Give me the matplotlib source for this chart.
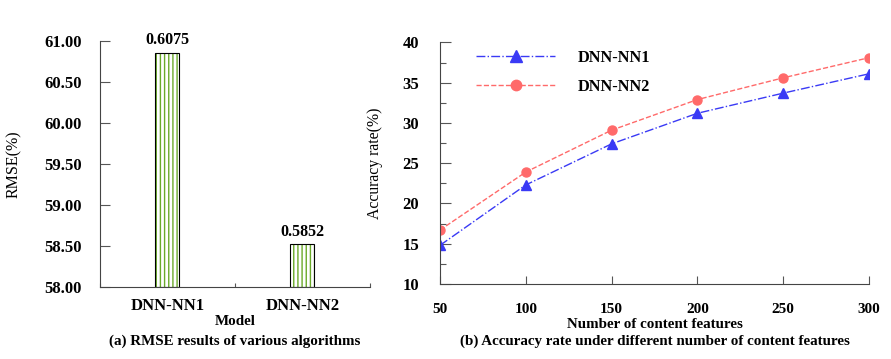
import matplotlib
matplotlib.use("Agg")
import matplotlib.pyplot as plt
from matplotlib.ticker import MultipleLocator, FixedLocator

plt.rcParams['font.family'] = ['Liberation Serif', 'DejaVu Serif']
plt.rcParams['hatch.linewidth'] = 1.0

# ---- data ----
models = ["DNN-NN1", "DNN-NN2"]
rmse_values = [60.86, 58.52]
rmse_labels = ["0.6075", "0.5852"]

features = [50, 100, 150, 200, 250, 300]
acc_nn1 = [14.8, 22.3, 27.4, 31.2, 33.7, 36.1]
acc_nn2 = [16.7, 23.9, 29.1, 32.9, 35.6, 38.1]

fs_tick = 12
fs_title = 10.8
fs_lab = 11.5
fig = plt.figure(figsize=(8.91, 3.59), dpi=100)

# ---- left: bar chart ----
ax1 = fig.add_axes([0.1122, 0.2006, 0.303, 0.685])
xpos = [0.5, 1.5]
bw = 0.178
green = "#6aaa2a"
ax1.bar(xpos, [v - 58 for v in rmse_values], bottom=58, width=bw, color="white",
        edgecolor=green, hatch="||||", linewidth=0)
ax1.bar(xpos, [v - 58 for v in rmse_values], bottom=58, width=bw, fill=False,
        edgecolor="black", linewidth=0.8)
for x, v, lab in zip(xpos, rmse_values, rmse_labels):
    ax1.text(x, v + 0.05, lab, ha="center", va="bottom", fontsize=fs_lab, fontweight="bold")
ax1.set_xlim(0, 2)
ax1.set_ylim(58, 61)
ax1.set_yticks([58 + 0.5 * i for i in range(7)])
ax1.set_yticklabels([f"{58 + 0.5 * i:.2f}" for i in range(7)], fontsize=fs_tick, fontweight="bold")
ax1.xaxis.set_major_locator(FixedLocator([0, 1, 2]))
ax1.set_xticklabels([])
ax1.set_xticks(xpos, minor=True)
ax1.set_xticklabels(models, minor=True, fontsize=fs_tick, fontweight="bold")
ax1.tick_params(axis="x", which="minor", length=0, pad=8)
ax1.tick_params(axis="x", which="major", direction="in", length=3, width=0.8, color="#555555")
ax1.tick_params(axis="y", direction="in", length=7, width=0.8, color="#555555", pad=13)
for s in ["top", "right"]:
    ax1.spines[s].set_visible(False)
for s in ["left", "bottom"]:
    ax1.spines[s].set_color("#444444")
ax1.set_ylabel("RMSE(%)", fontsize=fs_lab, labelpad=16)
ax1.set_xlabel("Model", fontsize=fs_title, fontweight="bold", labelpad=1)
fig.text(0.263, 0.05, "(a) RMSE results of various algorithms", ha="center", va="center",
         fontsize=fs_title, fontweight="bold")

# ---- right: line chart ----
ax2 = fig.add_axes([0.4938, 0.2089, 0.4815, 0.673])
blue = "#3a3af5"
red = "#ff6a6a"
ax2.plot(features, acc_nn1, color=blue, linestyle="-.", linewidth=1.0, marker="^",
         markersize=7, label="DNN-NN1")
ax2.plot(features, acc_nn2, color=red, linestyle="--", linewidth=1.0, marker="o",
         markersize=6.5, label="DNN-NN2")
ax2.set_xlim(50, 300)
ax2.set_ylim(10, 40)
ax2.set_xticks(features)
ax2.set_xticklabels([str(f) for f in features], fontsize=11, fontweight="bold")
ax2.yaxis.set_minor_locator(MultipleLocator(2.5))
ax2.set_yticks([10, 15, 20, 25, 30, 35, 40])
ax2.set_yticklabels(["10", "15", "20", "25", "30", "35", "40"], fontsize=fs_tick, fontweight="bold")
ax2.tick_params(axis="x", direction="in", length=6, width=0.8, color="#555555", pad=14)
ax2.tick_params(axis="y", which="major", direction="in", length=8, width=0.8, color="#555555", pad=15)
ax2.tick_params(axis="y", which="minor", direction="in", length=4, width=0.8, color="#555555")
for s in ["top", "right"]:
    ax2.spines[s].set_visible(False)
for s in ["left", "bottom"]:
    ax2.spines[s].set_color("#444444")
ax2.set_ylabel("Accuracy rate(%)", fontsize=11.3, labelpad=14)
ax2.set_xlabel("Number of content features", fontsize=fs_title, fontweight="bold", labelpad=1)
leg = ax2.legend(loc="upper left", bbox_to_anchor=(0.05, 1.03), frameon=False,
                 handlelength=4.8, handletextpad=1.4, labelspacing=0.8, markerscale=1.15,
                 prop={"size": 11.8, "weight": "bold", "family": "Liberation Serif"})
fig.text(0.735, 0.05, "(b) Accuracy rate under different number of content features",
         ha="center", va="center", fontsize=fs_title, fontweight="bold")

fig.savefig("out.png", dpi=100)
